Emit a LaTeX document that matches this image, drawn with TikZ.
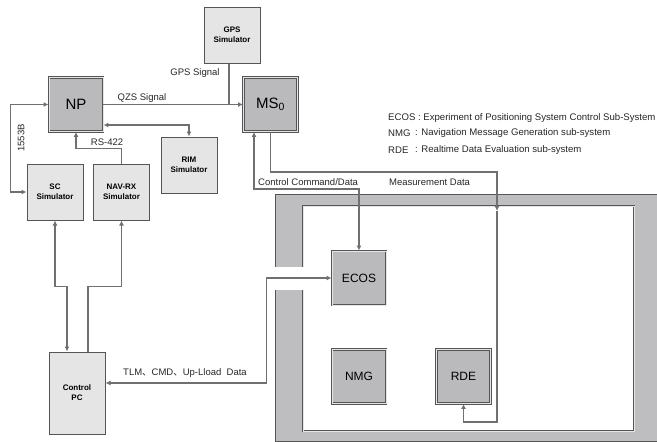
\documentclass[tikz,border=0pt]{standalone}
\usepackage{fontspec}
\setmainfont{Liberation Sans}
\newfontfamily\cjk{Noto Sans CJK JP}
\usetikzlibrary{arrows.meta}
\definecolor{linegray}{RGB}{112,112,112}
\definecolor{edgegray}{RGB}{85,85,85}
\definecolor{lightfill}{RGB}{229,229,229}
\definecolor{darkfill}{RGB}{186,186,189}
\definecolor{bandfill}{RGB}{190,190,192}
\begin{document}
\begin{tikzpicture}[x=1pt, y=-1pt,
  simbox/.style={rectangle, draw=edgegray, fill=lightfill, line width=1pt, align=center,
    minimum width=56, minimum height=56, inner sep=1pt, font=\bfseries\fontsize{8}{10}\selectfont},
  corebox/.style={rectangle, draw=edgegray, double=lightfill, double distance=1pt, line width=0.9pt,
    fill=darkfill, minimum width=54, minimum height=54, inner sep=1pt, font=\fontsize{12}{14}\selectfont},
  conn/.style={draw=linegray, line width=1.5pt, -, >={Latex[length=5pt,width=5pt]}},
  lbl/.style={inner sep=1pt, text=black!85, font=\fontsize{9.5}{11}\selectfont},
  legend/.style={inner sep=0pt, anchor=west, text=black!85, font=\fontsize{9.6}{11}\selectfont}
]
\useasboundingbox (0,0) rectangle (657,442);

% frame of the ground system
\draw[edgegray, line width=1pt, fill=bandfill] (275,194) rectangle (664,441);
\draw[edgegray, line width=0.8pt, double=lightfill, double distance=0.8pt, fill=white] (303,206) rectangle (634,431);
\fill[white] (273,267) rectangle (307,290);

% simulators and PC
\node[simbox] (gps) at (232,35) {GPS\\Simulator};
\node[simbox] (rim) at (189,165) {RIM\\Simulator};
\node[simbox] (sc) at (55,192) {SC\\Simulator};
\node[simbox] (nav) at (121.5,192) {NAV-RX\\Simulator};
\node[simbox, minimum height=82] (pc) at (77,393) {Control\\PC};

% core units
\node[corebox, font=\fontsize{15}{17}\selectfont] (np) at (76,104.5) {NP};
\node[corebox, font=\fontsize{15}{17}\selectfont] (ms) at (270.5,104.5) {MS\textsubscript{0}};
\node[corebox] (ecos) at (359,278) {ECOS};
\node[corebox] (nmg) at (359,376.5) {NMG};
\node[corebox] (rde) at (463.5,376.5) {RDE};

% connectors
\draw[conn,->] (np.east) -- (ms.west);
\draw[conn] ([xshift=-3pt]gps.south) -- ([xshift=-3pt]gps.south |- ms.west);
\draw[conn,<->] ([yshift=-20.5pt]np.east) -| (rim.north);
\draw[conn,<->] (np.west) -- ++(-38,0) |- (sc.west);
\draw[conn,->] (nav.north) -- ++(0,-15) -| (np.south);
\draw[conn,<->] (sc.south) -- ++(0,66) -| ([xshift=-10pt]pc.north);
\draw[conn,<-] (nav.south) -- ++(0,66) -| ([xshift=11pt]pc.north);
\draw[conn,<->] ([yshift=10pt]pc.east) -- ++(161,0) |- (ecos.west);
\draw[conn,<->] ([xshift=-16.5pt]ms.south) -- ++(0,57) -| (ecos.north);
\coordinate (meas) at (497,211);
\draw[conn,->] (ms.south) -- ++(0,40) -| (meas);
\draw[conn,->] (meas) -- ++(0,211) -| (rde.south);

% labels
\node[lbl] (qzs) at (142,98) {QZS Signal};
\node[lbl] (gpssig) at (195,73) {GPS Signal};
\node[lbl, rotate=90] (bus) at (21,138) {1553B};
\node[lbl] (rs) at (107,142) {RS-422};
\node[lbl, anchor=west] (ctrl) at (257,182) {Control Command/Data};
\node[lbl, anchor=west] (measlbl) at (388,182) {Measurement Data};
\node[lbl, anchor=west] (tlm) at (122,373) {TLM{\cjk 、}CMD{\cjk 、}Up-Lload\ \ Data};

% legend
\node[legend] (lecos) at (388,118) {ECOS : Experiment of Positioning System Control Sub-System};
\node[legend] (lnmg) at (388,133.5) {NMG};
\node[legend] (dnmg) at (415,133.5) {: Navigation Message Generation sub-system};
\node[legend] (lrde) at (388,150) {RDE};
\node[legend] (drde) at (415,150) {: Realtime Data Evaluation sub-system};
\end{tikzpicture}
\end{document}
